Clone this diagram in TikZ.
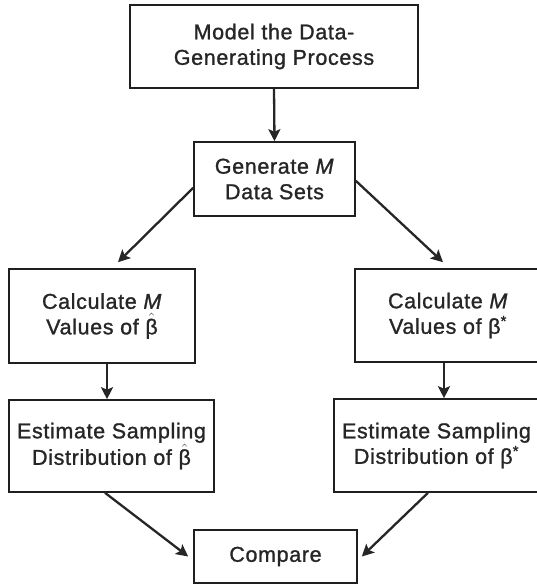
\documentclass[tikz,border=0pt]{standalone}
\usepackage{amsmath}
\usepackage{fontspec}
\setmainfont{Liberation Sans}[FakeBold=1.2,LetterSpace=3]
\usetikzlibrary{arrows.meta}

\newcommand{\bhat}{\ensuremath{\hat{\text{β}}}}
\newcommand{\bstar}{β\textsuperscript{*}}

\begin{document}
\begin{tikzpicture}[x=1pt,y=-1pt,
  box/.style={draw=black!88,line width=1.6pt,rectangle,inner sep=0pt,
    align=center,font=\fontsize{21.5}{25.5}\selectfont,text=black!85},
  flow/.style={draw=black!85,line width=2.3pt,
    -{Stealth[length=12pt,width=12pt,inset=2.5pt]}}
]
\useasboundingbox (0,0) rectangle (536,584);

% process boxes
\node[box,minimum width=288pt,minimum height=83pt] (model) at (274,46.5)
  {Model the Data-\\Generating Process};
\node[box,minimum width=161pt,minimum height=74pt] (gen) at (274.5,179)
  {Generate \textit{M}\\Data Sets};
\node[box,minimum width=186pt,minimum height=94pt] (calcL) at (102,316)
  {Calculate \textit{M}\\Values of \bhat};
\node[box,minimum width=186pt,minimum height=93pt] (calcR) at (448,315.5)
  {Calculate \textit{M}\\Values of \bstar};
\node[box,minimum width=205pt,minimum height=92pt] (distL) at (111.5,446)
  {Estimate Sampling\\Distribution of \bhat};
\node[box,minimum width=205pt,minimum height=93pt] (distR) at (436.5,445.5)
  {Estimate Sampling\\Distribution of \bstar};
\node[box,minimum width=163pt,minimum height=53pt] (cmp) at (275.5,556.5)
  {Compare};

% connectors
\draw[flow] (model.south) -- (gen.north);
\draw[flow] ([yshift=29pt]gen.south west) -- ([xshift=16pt,yshift=6pt]calcL.north);
\draw[flow] ([yshift=36pt]gen.south east) -- ([xshift=-5pt,yshift=6pt]calcR.north);
\draw[flow] ([xshift=5pt]calcL.south) -- ([xshift=5pt]calcL.south |- distL.north);
\draw[flow] ([xshift=-4pt]calcR.south) -- ([xshift=-4pt]calcR.south |- distR.north);
\draw[flow] ([xshift=-6.5pt]distL.south) -- ([xshift=-5pt]cmp.west);
\draw[flow] ([xshift=-8.5pt]distR.south) -- ([xshift=4pt]cmp.east);
\end{tikzpicture}
\end{document}
